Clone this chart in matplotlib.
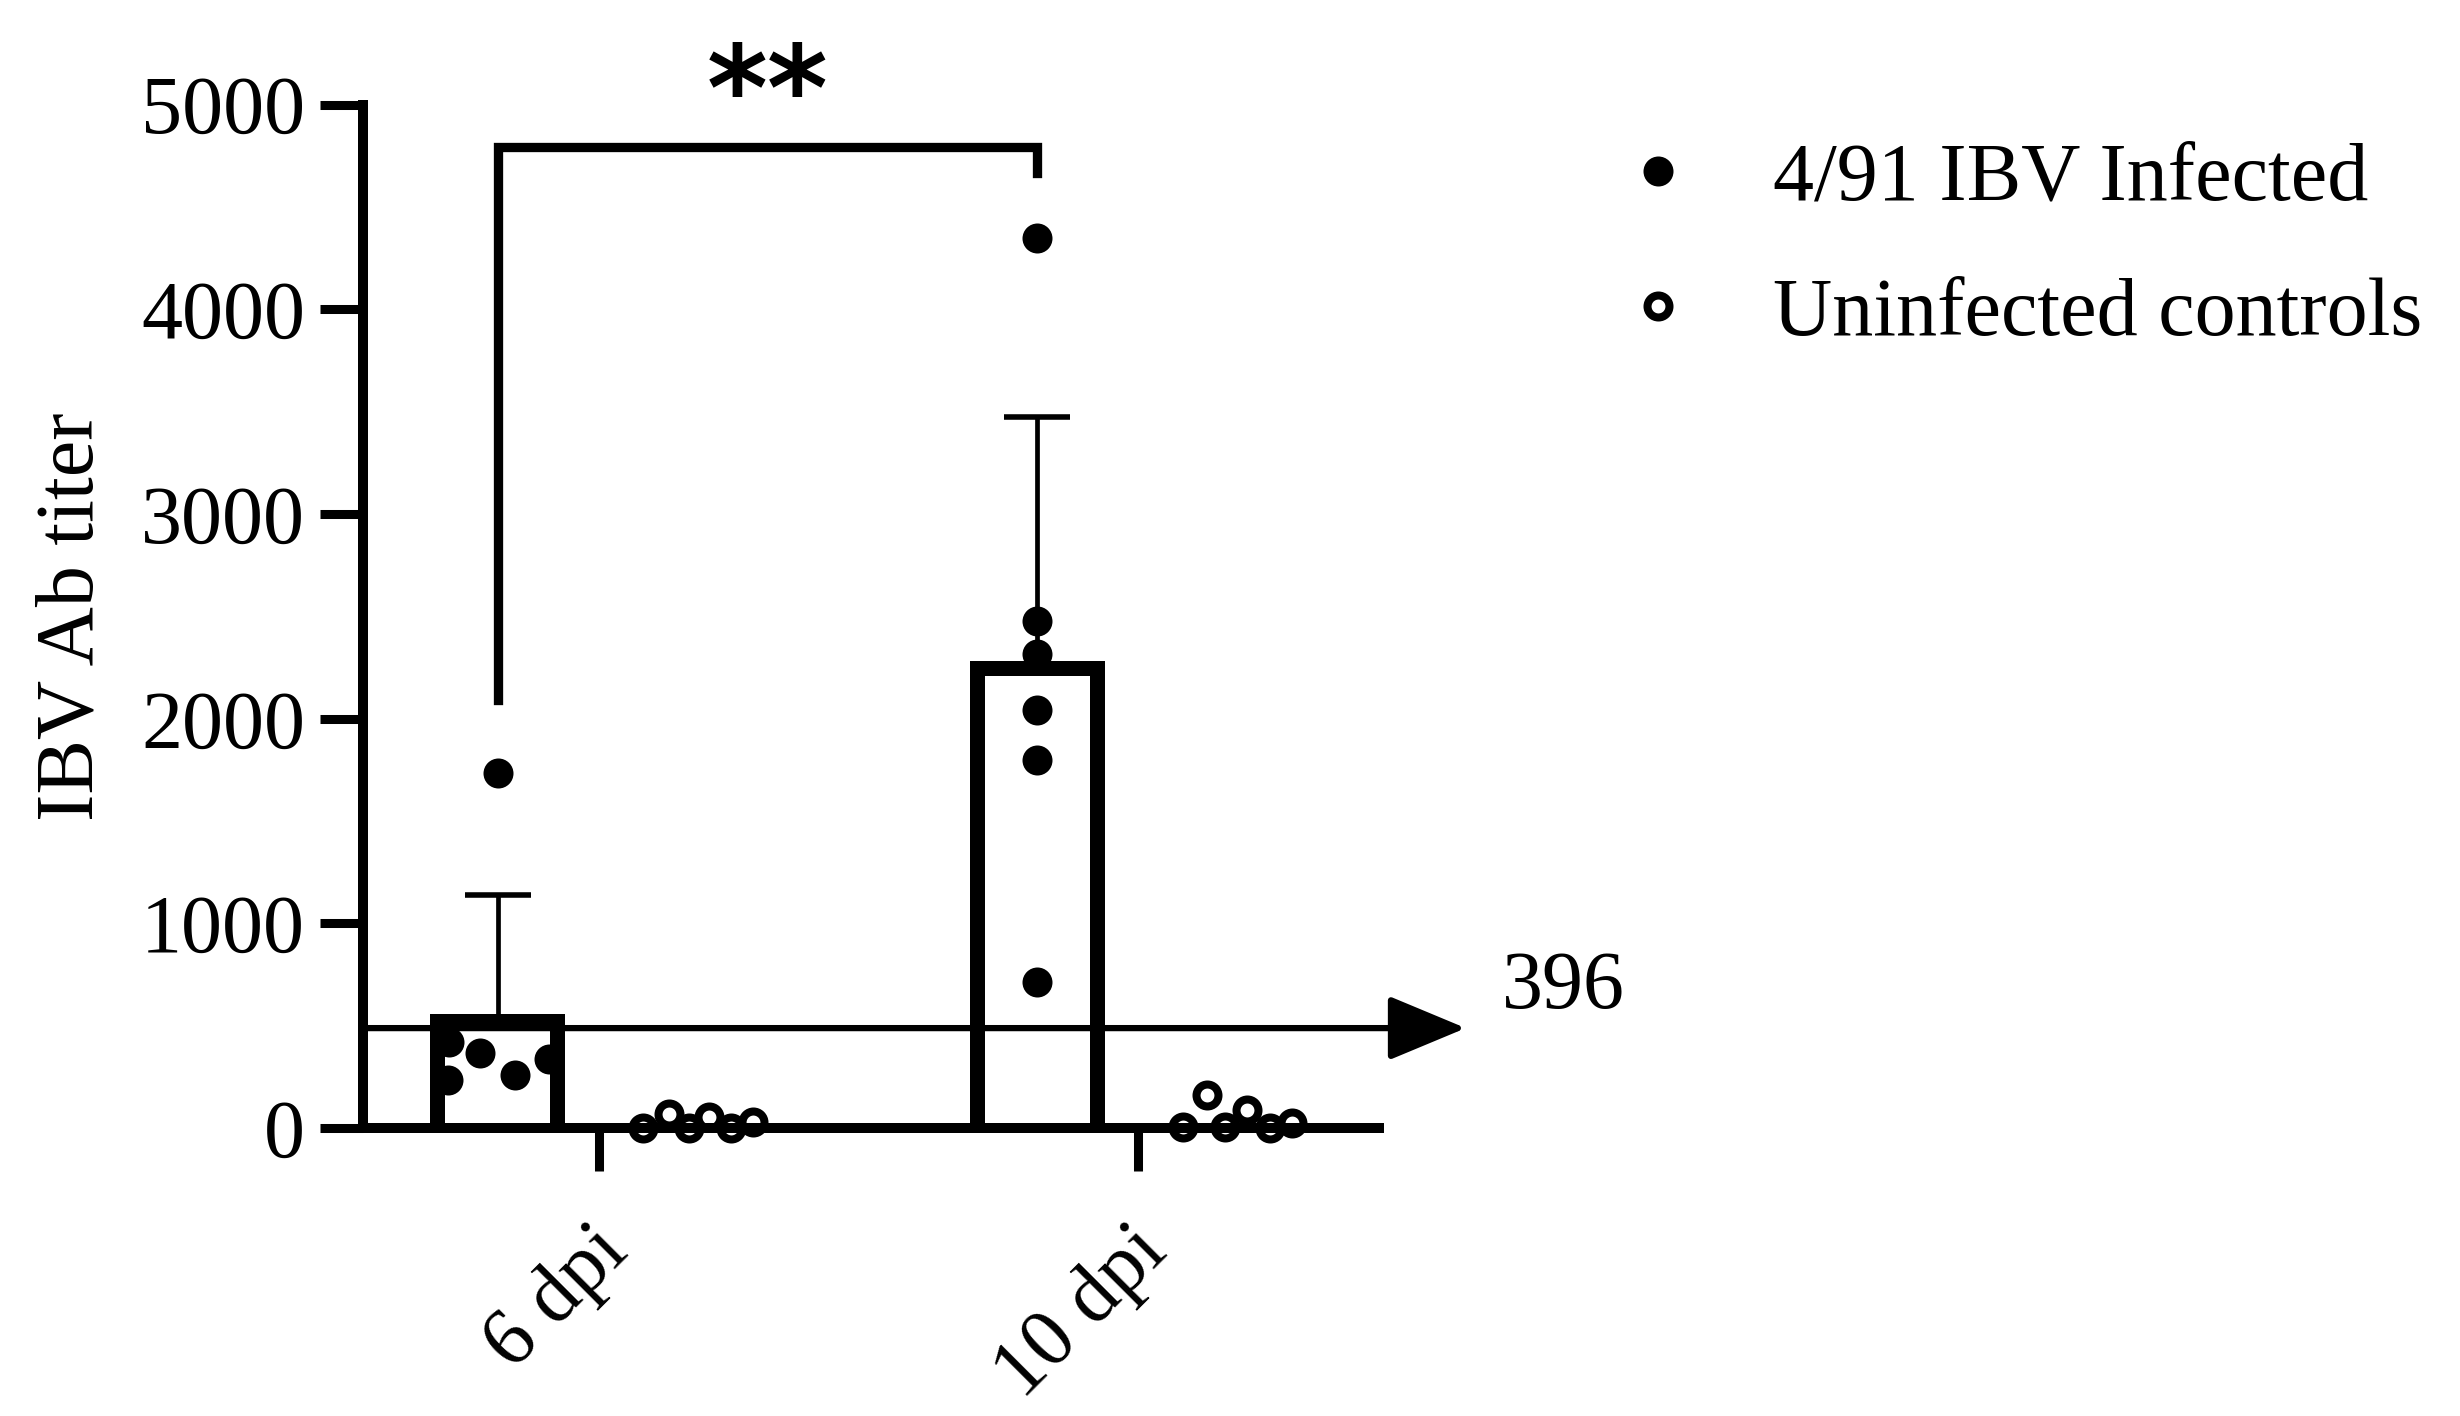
import numpy as np
import matplotlib
matplotlib.use("Agg")
import matplotlib.pyplot as plt
import matplotlib.transforms as mtransforms
from matplotlib.lines import Line2D

# values
timepoints = ["6 dpi", "10 dpi"]
infected_6dpi = [1732, 422, 234, 366, 259, 337]
infected_10dpi = [4349, 2478, 2316, 2041, 1798, 711]
control_6dpi = [0, 70, 0, 55, 0, 30]
control_10dpi = [6, 161, 6, 88, 0, 23]
cutoff_value = 488
cutoff_label = "396"
sig_label = "**"
bracket_top = 4790
bracket_legs = [2090, 4665]
legend_labels = ["4/91 IBV Infected", "Uninfected controls"]

# layout
group_pos = np.array([1.0, 2.0])
offset = 0.187
bar_w = 0.25
jit_inf_6 = [0, -0.091, -0.093, -0.033, 0.032, 0.096]
jit_inf_10 = [0, 0, 0, 0, 0, 0]
jit_ctl_6 = [-0.104, -0.057, -0.020, 0.017, 0.059, 0.100]
jit_ctl_10 = [-0.104, -0.059, -0.026, 0.015, 0.057, 0.098]
FS = 59

plt.rcParams["font.family"] = ["Liberation Serif", "DejaVu Serif"]

fig = plt.figure(figsize=(24.6, 14.16), dpi=100)
ax = fig.add_axes([0.14756, 0.20339, 0.41281, 0.72281])
xlo, xhi = 0.5634, 2.4453
ax.set_xlim(xlo, xhi)
ax.set_ylim(0, 5000)

inf_groups = [infected_6dpi, infected_10dpi]
ctl_groups = [control_6dpi, control_10dpi]
means = np.array([np.mean(g) for g in inf_groups])
sds = np.array([np.std(g, ddof=1) for g in inf_groups])
x_inf = group_pos - offset
x_ctl = group_pos + offset

# bars: white face, border drawn on the inside only (open at the bottom)
bars = ax.bar(x_inf, means, width=bar_w, color="white", edgecolor="none", zorder=2)
for rect, xc, m in zip(bars, x_inf, means):
    xs = [xc - bar_w / 2, xc - bar_w / 2, xc + bar_w / 2, xc + bar_w / 2]
    ln, = ax.plot(xs, [0, m, m, 0], color="black", lw=21.6,
                  solid_joinstyle="miter", solid_capstyle="butt", zorder=5)
    ln.set_clip_path(rect)

# SD error bars, upper side only
eb = ax.errorbar(x_inf, means, yerr=[np.zeros_like(sds), sds], fmt="none",
                 ecolor="black", elinewidth=3.4, capsize=24, capthick=4, zorder=3)
for cap in eb[1]:
    if np.allclose(cap.get_ydata(), means):
        cap.set_visible(False)

# cutoff line with arrow head
arrow_tip = 2.607
ax.annotate("", xy=(arrow_tip, cutoff_value), xytext=(xlo, cutoff_value),
            arrowprops=dict(arrowstyle="-|>,head_length=0.48,head_width=0.2",
                            mutation_scale=100, lw=4.5, color="black",
                            shrinkA=0, shrinkB=0),
            annotation_clip=False, zorder=3)
ax.annotate(cutoff_label, xy=(arrow_tip, cutoff_value), xytext=(36, 20),
            textcoords="offset pixels", fontsize=FS, ha="left", va="baseline",
            annotation_clip=False)

# individual points
for xc, vals, jit in zip(x_inf, inf_groups, [jit_inf_6, jit_inf_10]):
    ax.plot(xc + np.array(jit), vals, "o", ms=21.6, color="black", mew=0,
            clip_on=False, zorder=4)
for xc, vals, jit in zip(x_ctl, ctl_groups, [jit_ctl_6, jit_ctl_10]):
    ax.plot(xc + np.array(jit), vals, "o", ms=15.8, mfc="none", mec="black",
            mew=5.8, clip_on=False, zorder=4)

# significance bracket
ax.plot([x_inf[0], x_inf[0], x_inf[1], x_inf[1]],
        [bracket_legs[0], bracket_top, bracket_top, bracket_legs[1]],
        color="black", lw=6.7, solid_joinstyle="miter", clip_on=False, zorder=3)
ax.annotate(sig_label, xy=(x_inf.mean(), bracket_top), xytext=(0, 17),
            textcoords="offset pixels", ha="center", va="baseline",
            fontsize=84, fontweight="bold", family="DejaVu Sans",
            annotation_clip=False)

# axes styling
for s in ["top", "right"]:
    ax.spines[s].set_visible(False)
for s in ["left", "bottom"]:
    ax.spines[s].set_linewidth(7.2)
ax.set_yticks(range(0, 5001, 1000))
ax.set_xticks(group_pos)
ax.set_xticklabels(timepoints)
ax.tick_params(axis="both", direction="out", length=31, width=6.5, labelsize=FS)
ax.tick_params(axis="y", pad=10.8)
ax.tick_params(axis="x", pad=51)
shift = mtransforms.ScaledTranslation(0.31, -0.12, fig.dpi_scale_trans)
for lab in ax.get_xticklabels():
    lab.set_rotation(45)
    lab.set_ha("right")
    lab.set_va("baseline")
    lab.set_rotation_mode("anchor")
    lab.set_transform(lab.get_transform() + shift)

ax.set_ylabel("IBV Ab titer", fontsize=FS)
ax.yaxis.set_label_coords(-0.249, 0.5)

handles = [
    Line2D([], [], marker="o", ls="none", color="black", ms=21.6, mew=0),
    Line2D([], [], marker="o", ls="none", mfc="none", mec="black", ms=15.8, mew=5.8),
]
fig.legend(handles, legend_labels, loc="upper left",
           bbox_to_anchor=(0.6573, 0.8997), fontsize=FS, frameon=False,
           handlelength=1.0, handletextpad=0.9, labelspacing=0.73,
           borderpad=0, borderaxespad=0)

fig.savefig("out.png", dpi=100)
